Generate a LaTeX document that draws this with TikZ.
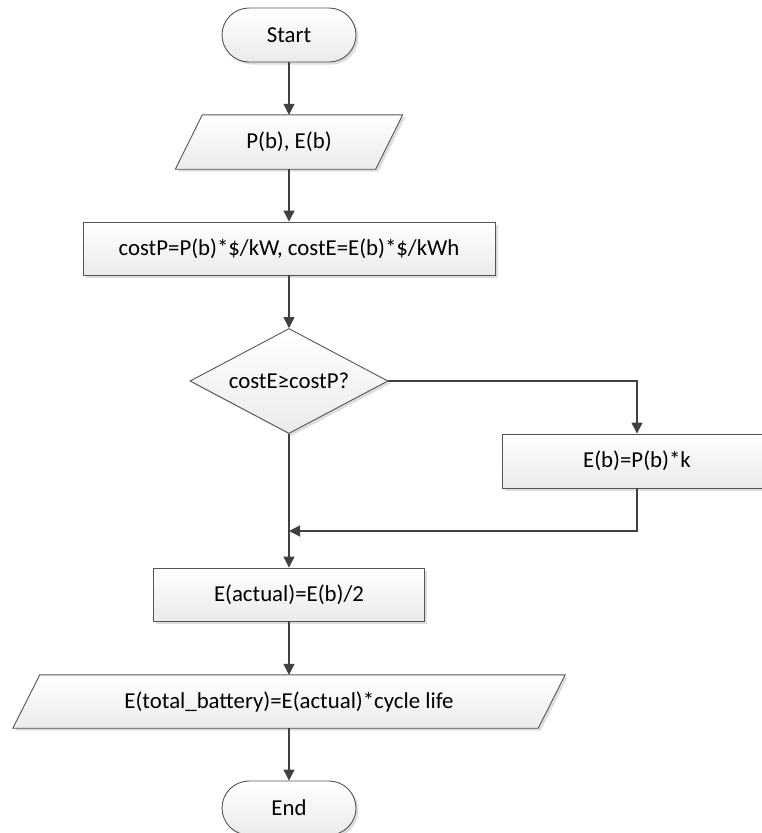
\documentclass[tikz,border=0pt]{standalone}
\usepackage{fontspec}
\setmainfont{Carlito}
\usetikzlibrary{arrows.meta,shapes.geometric,shapes.misc,shadows}
\pgfdeclarelayer{background}
\pgfsetlayers{background,main}
\definecolor{linecol}{HTML}{404040}
\definecolor{edgecol}{HTML}{555555}
\tikzset{
  boxlook/.style={draw=edgecol, line width=0.9pt, top color=white, bottom color=black!8,
    drop shadow={shadow xshift=2.5pt, shadow yshift=-2.5pt, fill=black!22, opacity=0.6}},
  lbl/.style={font=\fontsize{22.8}{27}\selectfont, inner sep=0pt, text=black},
  procbox/.style={boxlook, lbl, rectangle},
  termbox/.style={boxlook, lbl, rounded rectangle, minimum width=134pt, minimum height=54pt},
  decbox/.style={boxlook, lbl, diamond, aspect=1.9, minimum width=198pt, minimum height=105pt},
  iotext/.style={lbl, rectangle},
  iobox/.style={boxlook},
  conn/.style={draw=linecol, line width=1.2pt, -{Triangle[length=11pt,width=11pt]}},
}
\begin{document}
\begin{tikzpicture}[x=1pt,y=-1pt]
\useasboundingbox (0,0) rectangle (761,833);

\node[termbox] (start) at (289,35) {Start};

\node[iotext, minimum width=200pt, minimum height=54pt] (para1) at (289,142) {P(b), E(b)};
\begin{pgfonlayer}{background}
\path[iobox] ([xshift=13.5pt]para1.north west) -- ([xshift=13.5pt]para1.north east)
  -- ([xshift=-13.5pt]para1.south east) -- ([xshift=-13.5pt]para1.south west) -- cycle;
\end{pgfonlayer}

\node[procbox, minimum width=412pt, minimum height=53pt] (calc) at (289,248.5) {costP=P(b)*\$/kW, costE=E(b)*\$/kWh};

\node[decbox] (dec) at (289,381) {costE≥costP?};

\node[procbox, minimum width=270pt, minimum height=54pt] (ebk) at (637,461) {E(b)=P(b)*k};

\node[procbox, minimum width=271pt, minimum height=53pt] (eact) at (289,594.5) {E(actual)=E(b)/2};

\node[iotext, minimum width=525pt, minimum height=53pt] (para2) at (289,701.5) {E(total\_battery)=E(actual)*cycle life};
\begin{pgfonlayer}{background}
\path[iobox] ([xshift=13.5pt]para2.north west) -- ([xshift=13.5pt]para2.north east)
  -- ([xshift=-13.5pt]para2.south east) -- ([xshift=-13.5pt]para2.south west) -- cycle;
\end{pgfonlayer}

\node[termbox] (end) at (289,808) {End};

\coordinate (join) at (289,531);

\draw[conn] (start.south) -- (para1.north);
\draw[conn] (para1.south) -- (calc.north);
\draw[conn] (calc.south) -- (dec.north);
\draw[conn] (dec.east) -| (ebk.north);
\draw[conn] (dec.south) -- (eact.north);
\draw[conn] (ebk.south) |- (join);
\draw[conn] (eact.south) -- (para2.north);
\draw[conn] (para2.south) -- (end.north);
\end{tikzpicture}
\end{document}
